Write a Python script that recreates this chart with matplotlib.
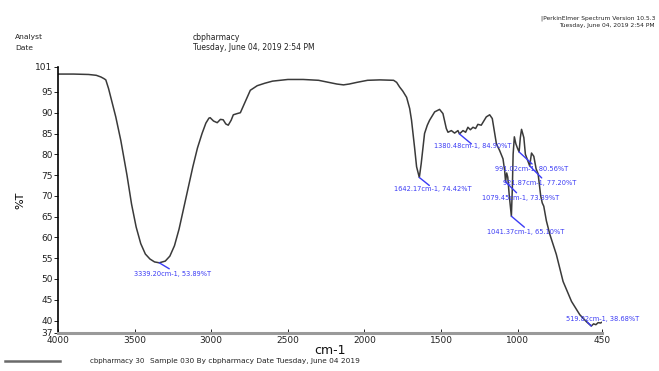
import matplotlib
matplotlib.use("Agg")
import matplotlib.pyplot as plt

wavenumber = [4000, 3900, 3800, 3750, 3720, 3700, 3688, 3670, 3656, 3640, 3623, 3590,
              3550, 3520, 3490, 3460, 3430, 3400, 3370, 3339.2, 3300, 3270, 3240, 3210,
              3180, 3150, 3120, 3090, 3060, 3035, 3015, 3007, 2985, 2961, 2940, 2922,
              2905, 2889, 2870, 2856, 2830, 2810, 2780, 2745, 2700, 2650, 2600, 2500,
              2400, 2300, 2220, 2180, 2137, 2100, 2050, 1980, 1900, 1810, 1790, 1771,
              1750, 1725, 1705, 1693, 1673, 1660, 1642.17, 1630, 1608, 1590, 1575, 1542,
              1510, 1488, 1466, 1455, 1433, 1412, 1390, 1380.48, 1357, 1340, 1325, 1309,
              1292, 1275, 1260, 1238, 1205, 1183, 1166, 1150, 1139, 1118, 1096, 1085,
              1079.45, 1072, 1065, 1055, 1041.37, 1035, 1030, 1022, 1012, 1002, 991.02,
              983, 975, 960, 950, 935, 921.87, 910, 895, 880, 867, 850, 840, 830, 813,
              791, 748, 704, 649, 595, 551, 519.82, 505, 490, 475, 460, 450]
transmittance = [99.3, 99.3, 99.2, 99.0, 98.6, 98.2, 97.9, 95.8, 93.8, 91.5, 89.0, 83.3,
                 75.0, 68.0, 62.5, 58.5, 56.0, 54.8, 54.1, 53.89, 54.3, 55.5, 58.0, 62.0,
                 67.0, 72.0, 77.0, 81.5, 85.0, 87.5, 88.7, 88.8, 88.0, 87.6, 88.4, 88.3,
                 87.3, 87.0, 88.2, 89.5, 89.8, 90.0, 92.5, 95.4, 96.5, 97.1, 97.6, 98.0,
                 98.0, 97.8, 97.2, 96.9, 96.7, 96.9, 97.3, 97.8, 97.9, 97.8, 97.3, 96.2,
                 95.2, 93.7, 91.0, 88.2, 81.6, 77.0, 74.42, 77.7, 85.0, 87.0, 88.2, 90.2,
                 90.8, 89.8, 86.2, 85.3, 85.7, 85.1, 85.7, 84.90, 85.7, 85.3, 86.5, 85.9,
                 86.5, 86.2, 87.2, 87.0, 89.0, 89.5, 88.6, 85.0, 82.5, 80.9, 78.9, 76.0,
                 73.39, 75.5, 74.5, 70.0, 65.10, 72.0, 80.0, 84.2, 82.5, 81.5, 80.56,
                 84.0, 86.0, 84.0, 80.0, 78.5, 77.20, 80.3, 79.5, 76.5, 75.3, 70.0, 68.3,
                 67.5, 64.0, 60.8, 55.9, 49.4, 44.6, 41.4, 39.7, 38.68, 39.2, 39.0, 39.5,
                 39.4, 39.6]

peak_x = [3339.20, 1642.17, 1380.48, 991.02, 921.87, 1079.45, 1041.37, 519.82]
peak_y = [53.89, 74.42, 84.90, 80.56, 77.20, 73.39, 65.10, 38.68]

x_ticks = [4000, 3500, 3000, 2500, 2000, 1500, 1000, 450]
y_ticks = [101, 95, 90, 85, 80, 75, 70, 65, 60, 55, 50, 45, 40, 37]

fig = plt.figure(figsize=(6.59, 3.71), dpi=100)
ax = fig.add_axes([58/659, 38/371, 544/659, 266/371])

ax.plot(wavenumber, transmittance, color="#3a3a3a", lw=1.1)
ax.set_xlim(4000, 450)
ax.set_ylim(37, 101)
ax.set_xticks(x_ticks)
ax.set_xticklabels([str(t) for t in x_ticks])
ax.set_yticks(y_ticks)
ax.set_yticklabels([str(t) for t in y_ticks])
ax.tick_params(axis="both", labelsize=6.5, colors="#222222", length=3, width=0.7, pad=1)
ax.tick_params(axis="x", direction="in", pad=2)
for s in ["top", "right"]:
    ax.spines[s].set_visible(False)
ax.spines["left"].set_color("black")
ax.spines["left"].set_linewidth(1.2)
ax.spines["bottom"].set_color("#9a9a9a")
ax.spines["bottom"].set_linewidth(2.2)

ax.set_ylabel("%T", fontsize=8, labelpad=7)
fig.text(330/659, 1 - 351/371, "cm-1", fontsize=9, ha="center", va="center", color="#111111")

blue = "#3b3bf5"
text_off = [(-25, -11), (-25, -12), (-25, -12), (-24, -17), (-27, -17), (-24, -16), (-24, -16), (-25, 7)]
line_off = [(10, -6), (10, -8), (12, -10), (13, -12), (12, -12), (11, -11), (13, -11), (-4, 4)]
for px, py, to, lo in zip(peak_x, peak_y, text_off, line_off):
    ax.annotate("", xy=(px, py), xytext=lo, textcoords="offset pixels",
                arrowprops=dict(arrowstyle="-", color=blue, lw=1.0, shrinkA=0, shrinkB=0))
    ax.annotate(f"{px:.2f}cm-1, {py:.2f}%T", xy=(px, py), xytext=to,
                textcoords="offset pixels", ha="left", va="center",
                fontsize=4.8, color=blue)

fig.text(15/659, 1 - 37/371, "Analyst", fontsize=5.4, va="center", color="#222222")
fig.text(15/659, 1 - 48/371, "Date", fontsize=5.4, va="center", color="#222222")
fig.text(193/659, 1 - 37/371, "cbpharmacy", fontsize=5.5, va="center", color="#222222")
fig.text(193/659, 1 - 48/371, "Tuesday, June 04, 2019 2:54 PM", fontsize=5.5, va="center", color="#222222")
fig.text(655/659, 1 - 18/371, "|PerkinElmer Spectrum Version 10.5.3", fontsize=4.3, ha="right", va="center", color="#222222")
fig.text(655/659, 1 - 26/371, "Tuesday, June 04, 2019 2:54 PM", fontsize=4.3, ha="right", va="center", color="#222222")

fig.add_artist(plt.Line2D([5/659, 60/659], [1 - 361/371, 1 - 361/371], color="#6a6a6a", lw=1.8))
fig.text(90/659, 1 - 361/371, "cbpharmacy 30", fontsize=5, va="center", color="#222222")
fig.text(150/659, 1 - 361/371, "Sample 030 By cbpharmacy Date Tuesday, June 04 2019", fontsize=5.3, va="center", color="#222222")

fig.savefig("out.png", dpi=100)
